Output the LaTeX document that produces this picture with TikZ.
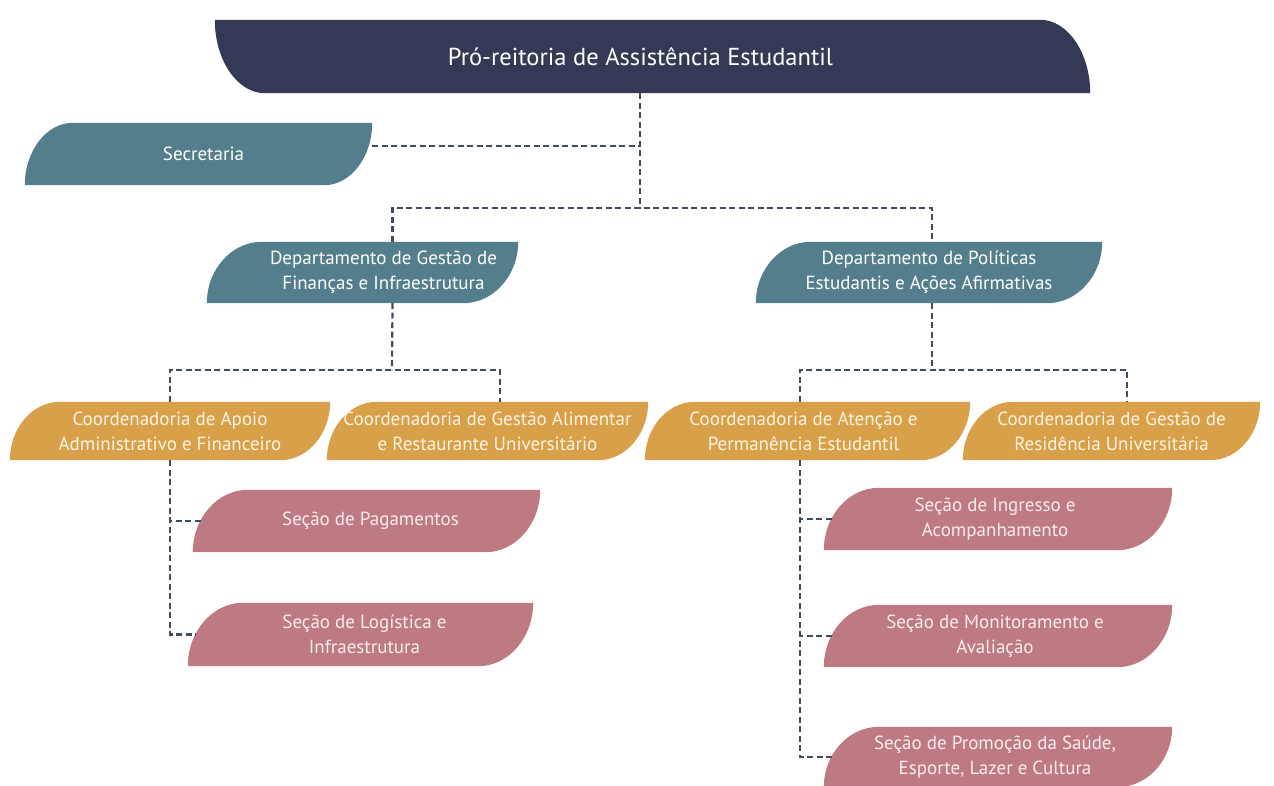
\documentclass[tikz,border=0pt]{standalone}
\usepackage{fontspec}
\setmainfont{PT Sans}
\usetikzlibrary{calc,backgrounds}
\definecolor{navy}{HTML}{343A55}
\definecolor{tealc}{HTML}{547E8C}
\definecolor{gold}{HTML}{D9A04A}
\definecolor{rose}{HTML}{BE7A83}
\definecolor{connc}{HTML}{3F4D5E}
\definecolor{goldtxt}{HTML}{FFF3E3}
\definecolor{rosetxt}{HTML}{FAECEE}
\tikzset{
  box/.style={inner sep=0pt, align=center, font=\fontsize{19}{25}\selectfont},
  conn/.style={draw=connc, line width=2.2pt, dash pattern=on 6pt off 3.5pt},
}
% shifts the line that follows by half the given length
\newcommand\sh[1]{\hspace*{#1}}
% rounded top-left and bottom-right
\newcommand\leafA[3]{%
  \fill[#2] let \p1=(#1.south west), \p2=(#1.north east) in
  (\x1,\y1) .. controls (\x1,{\y1+0.55*(\y2-\y1)}) and ({\x1+0.45*#3},\y2) .. ({\x1+#3},\y2)
  -- (\x2,\y2) .. controls (\x2,{\y2-0.55*(\y2-\y1)}) and ({\x2-0.45*#3},\y1) .. ({\x2-#3},\y1) -- cycle;}
% rounded top-right and bottom-left
\newcommand\leafB[3]{%
  \fill[#2] let \p1=(#1.south west), \p2=(#1.north east) in
  (\x1,\y2) -- ({\x2-#3},\y2) .. controls ({\x2-0.45*#3},\y2) and (\x2,{\y1+0.55*(\y2-\y1)}) .. (\x2,\y1)
  -- ({\x1+#3},\y1) .. controls ({\x1+0.45*#3},\y1) and (\x1,{\y2-0.55*(\y2-\y1)}) .. (\x1,\y2) -- cycle;}
\begin{document}
\begin{tikzpicture}[x=1pt,y=-1pt]
\useasboundingbox (0,0) rectangle (1274,785);

\node[box,minimum width=875pt,minimum height=73pt,text=white,font=\fontsize{24.5}{25}\selectfont] (top) at (652.5,56.5) {\sh{-24pt}Pró-reitoria de Assistência Estudantil};
\node[box,minimum width=347pt,minimum height=62pt,text=white] (sec) at (198.5,154) {\sh{10pt}Secretaria};
\node[box,minimum width=311pt,minimum height=61pt,text=white] (d1) at (362.5,272.5) {\sh{42pt}Departamento de Gestão de\\\sh{42pt}Finanças e Infraestrutura};
\node[box,minimum width=346pt,minimum height=61pt,text=white] (d2) at (929,272.5) {Departamento de Políticas\\Estudantis e Ações Afirmativas};
\node[box,minimum width=320pt,minimum height=58pt,text=goldtxt] (c1) at (170,431) {Coordenadoria de Apoio\\Administrativo e Financeiro};
\node[box,minimum width=321pt,minimum height=58pt,text=goldtxt] (c2) at (487.5,431) {Coordenadoria de Gestão Alimentar\\e Restaurante Universitário};
\node[box,minimum width=325pt,minimum height=58pt,text=goldtxt] (c3) at (807.5,431) {\sh{-8pt}Coordenadoria de Atenção e\\\sh{-8pt}Permanência Estudantil};
\node[box,minimum width=297pt,minimum height=58pt,text=goldtxt] (c4) at (1111.5,431) {Coordenadoria de Gestão de\\Residência Universitária};
\node[box,minimum width=347pt,minimum height=62pt,text=rosetxt] (s1) at (366.5,521) {\sh{8pt}Seção de Pagamentos};
\node[box,minimum width=345pt,minimum height=63pt,text=rosetxt] (s2) at (360.5,634.5) {\sh{8pt}Seção de Logística e\\\sh{8pt}Infraestrutura};
\node[box,minimum width=348pt,minimum height=62pt,text=rosetxt] (s3) at (998,519) {\sh{-6pt}Seção de Ingresso e\\\sh{-6pt}Acompanhamento};
\node[box,minimum width=348pt,minimum height=62pt,text=rosetxt] (s4) at (998,636) {\sh{-6pt}Seção de Monitoramento e\\\sh{-6pt}Avaliação};
\node[box,minimum width=348pt,minimum height=60pt,text=rosetxt] (s5) at (998,757) {\sh{-6pt}Seção de Promoção da Saúde,\\\sh{-6pt}Esporte, Lazer e Cultura};

\begin{pgfonlayer}{background}
\leafB{top}{navy}{50pt}
\leafA{sec}{tealc}{48pt}
\leafA{d1}{tealc}{55pt}
\leafA{d2}{tealc}{55pt}
\leafA{c1}{gold}{50pt}
\leafA{c2}{gold}{50pt}
\leafA{c3}{gold}{50pt}
\leafA{c4}{gold}{50pt}
\leafA{s1}{rose}{55pt}
\leafA{s2}{rose}{55pt}
\leafA{s3}{rose}{55pt}
\leafA{s4}{rose}{55pt}
\leafA{s5}{rose}{55pt}
\end{pgfonlayer}

\coordinate (bus0) at (640,208);
\coordinate (b1) at (392,370);
\coordinate (b2) at (932,370);
\coordinate (c1out) at (170,460);
\coordinate (c3out) at (800,460);

\draw[conn] (bus0 |- top.south) -- (bus0);
\draw[conn] ([yshift=8pt]sec.east) -- ([yshift=8pt]sec.east -| bus0);
\draw[conn] ([xshift=30pt]d1.north) |- (bus0) -| ([xshift=3pt]d2.north);
\draw[conn] ([xshift=30pt]d1.south) -- (b1);
\draw[conn] ([xshift=3pt]d2.south) -- (b2);
\draw[conn] (c1.north) |- (b1) -| ([xshift=12.5pt]c2.north);
\draw[conn] ([xshift=-7.5pt]c3.north) |- (b2) -| ([xshift=15.5pt]c4.north);
\draw[conn] (c1.south) |- ([xshift=8pt]s2.west);
\draw[conn] ([xshift=8pt]s1.west) -- (s1.west -| c1out);
\draw[conn] (c3out) |- ([xshift=8pt]s5.west);
\draw[conn] ([xshift=8pt]s3.west) -- (s3.west -| c3out);
\draw[conn] ([xshift=8pt]s4.west) -- (s4.west -| c3out);
\end{tikzpicture}
\end{document}
